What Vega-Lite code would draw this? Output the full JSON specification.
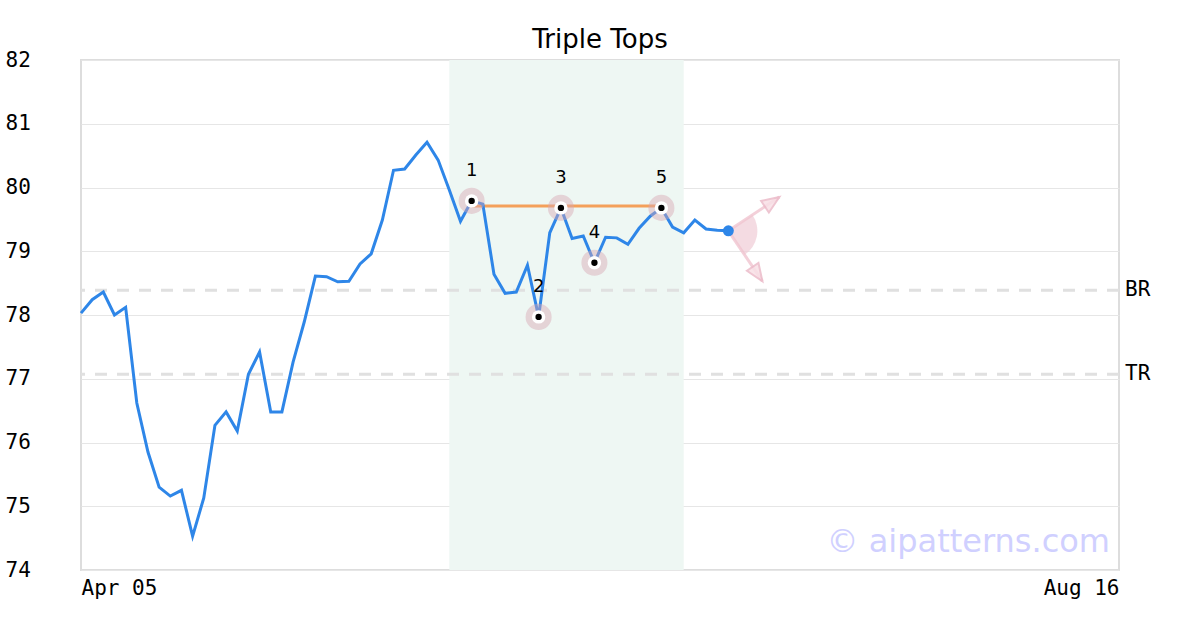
{
  "$schema": "https://vega.github.io/schema/vega-lite/v6.json",
  "width": 1038,
  "height": 510,
  "autosize": "none",
  "padding": {"left": 81, "top": 60, "right": 81, "bottom": 60},
  "background": "white",
  "title": {"text": "Triple Tops", "font": "DejaVu Sans", "fontSize": 26, "fontWeight": "normal", "color": "#000000", "anchor": "middle", "offset": -4},
  "config": {
    "view": {"stroke": "#dddddd", "strokeWidth": 2},
    "axis": {"labelFont": "DejaVu Sans Mono", "labelFontSize": 21, "labelColor": "#000000", "ticks": false, "domain": false, "title": null}
  },
  "datasets": {
    "series": [
      {"i": 0, "v": 78.03}, {"i": 1, "v": 78.24}, {"i": 2, "v": 78.36}, {"i": 3, "v": 78.0}, {"i": 4, "v": 78.12},
      {"i": 5, "v": 76.62}, {"i": 6, "v": 75.85}, {"i": 7, "v": 75.3}, {"i": 8, "v": 75.16}, {"i": 9, "v": 75.25},
      {"i": 10, "v": 74.53}, {"i": 11, "v": 75.13}, {"i": 12, "v": 76.27}, {"i": 13, "v": 76.48}, {"i": 14, "v": 76.18},
      {"i": 15, "v": 77.07}, {"i": 16, "v": 77.42}, {"i": 17, "v": 76.48}, {"i": 18, "v": 76.48}, {"i": 19, "v": 77.26},
      {"i": 20, "v": 77.89}, {"i": 21, "v": 78.61}, {"i": 22, "v": 78.6}, {"i": 23, "v": 78.52}, {"i": 24, "v": 78.53},
      {"i": 25, "v": 78.8}, {"i": 26, "v": 78.96}, {"i": 27, "v": 79.49}, {"i": 28, "v": 80.27}, {"i": 29, "v": 80.29},
      {"i": 30, "v": 80.51}, {"i": 31, "v": 80.71}, {"i": 32, "v": 80.43}, {"i": 33, "v": 79.96}, {"i": 34, "v": 79.47},
      {"i": 35, "v": 79.79}, {"i": 36, "v": 79.74}, {"i": 37, "v": 78.64}, {"i": 38, "v": 78.34}, {"i": 39, "v": 78.36},
      {"i": 40, "v": 78.78}, {"i": 41, "v": 77.97}, {"i": 42, "v": 79.29}, {"i": 43, "v": 79.68}, {"i": 44, "v": 79.2},
      {"i": 45, "v": 79.24}, {"i": 46, "v": 78.82}, {"i": 47, "v": 79.22}, {"i": 48, "v": 79.21}, {"i": 49, "v": 79.11},
      {"i": 50, "v": 79.36}, {"i": 51, "v": 79.55}, {"i": 52, "v": 79.68}, {"i": 53, "v": 79.38}, {"i": 54, "v": 79.29},
      {"i": 55, "v": 79.49}, {"i": 56, "v": 79.35}, {"i": 57, "v": 79.33}, {"i": 58, "v": 79.32}
    ],
    "pivots": [
      {"i": 35, "v": 79.79, "label": "1"},
      {"i": 41, "v": 77.97, "label": "2"},
      {"i": 43, "v": 79.68, "label": "3"},
      {"i": 46, "v": 78.82, "label": "4"},
      {"i": 52, "v": 79.68, "label": "5"}
    ],
    "levels": [
      {"v": 78.39, "label": "BR"},
      {"v": 77.07, "label": "TR"}
    ],
    "arrows": [
      {"i": 58, "v": 79.32, "i2": 62.57, "v2": 79.85, "dir": "up"},
      {"i": 58, "v": 79.32, "i2": 61.05, "v2": 78.53, "dir": "down"}
    ]
  },
  "layer": [
    {
      "data": {"values": [{"start": 33, "end": 54}]},
      "mark": {"type": "rect", "color": "#eef7f3"},
      "encoding": {
        "x": {"field": "start", "type": "quantitative", "scale": {"domain": [0, 93], "nice": false, "zero": false},
              "axis": {"values": [0, 93], "labelExpr": "datum.value == 0 ? 'Apr 05' : 'Aug 16'", "labelFlush": true, "labelPadding": 7, "grid": false}},
        "x2": {"field": "end"}
      }
    },
    {
      "data": {"name": "series"},
      "mark": {"type": "line", "opacity": 0},
      "encoding": {
        "x": {"field": "i", "type": "quantitative", "scale": {"domain": [0, 93], "nice": false, "zero": false}},
        "y": {"field": "v", "type": "quantitative", "scale": {"domain": [74, 82], "nice": false, "zero": false},
              "axis": {"values": [74, 75, 76, 77, 78, 79, 80, 81, 82], "format": "d", "labelAlign": "left", "labelPadding": 76, "grid": true, "gridColor": "#e6e6e6", "gridWidth": 1}}
      }
    },
    {
      "data": {"name": "levels"},
      "mark": {"type": "rule", "color": "#e0e0e0", "strokeWidth": 3, "strokeDash": [12, 10]},
      "encoding": {"y": {"field": "v", "type": "quantitative"}}
    },
    {
      "data": {"name": "levels"},
      "mark": {"type": "text", "align": "left", "baseline": "middle", "dx": 6, "font": "DejaVu Sans Mono", "fontSize": 21, "color": "#000000"},
      "encoding": {"x": {"datum": 93}, "y": {"field": "v", "type": "quantitative"}, "text": {"field": "label"}}
    },
    {
      "data": {"values": [{"i": 35, "i2": 52, "v": 79.71}]},
      "mark": {"type": "rule", "color": "#f4a05a", "strokeWidth": 3},
      "encoding": {"x": {"field": "i", "type": "quantitative"}, "x2": {"field": "i2"}, "y": {"field": "v", "type": "quantitative"}}
    },
    {
      "data": {"name": "series"},
      "mark": {"type": "line", "color": "#2e86e8", "strokeWidth": 3},
      "encoding": {"x": {"field": "i", "type": "quantitative"}, "y": {"field": "v", "type": "quantitative"}}
    },
    {
      "data": {"values": [{"i": 58, "v": 79.32}]},
      "mark": {"type": "arc", "theta": 0.98, "theta2": 2.55, "outerRadius": 29, "innerRadius": 0, "color": "#f0ccd6", "opacity": 0.7},
      "encoding": {"x": {"field": "i", "type": "quantitative"}, "y": {"field": "v", "type": "quantitative"}}
    },
    {
      "data": {"name": "arrows"},
      "mark": {"type": "rule", "color": "#f0c4d0", "strokeWidth": 3, "opacity": 0.8},
      "encoding": {"x": {"field": "i", "type": "quantitative"}, "y": {"field": "v", "type": "quantitative"}, "x2": {"field": "i2"}, "y2": {"field": "v2"}}
    },
    {
      "data": {"name": "arrows"},
      "mark": {"type": "point", "shape": "M0,0L-0.8,2L0.8,2Z", "size": 300, "filled": true, "fill": "#f8e0e6", "stroke": "#ecbcca", "strokeWidth": 2, "opacity": 0.85},
      "encoding": {
        "x": {"field": "i2", "type": "quantitative"},
        "y": {"field": "v2", "type": "quantitative"},
        "angle": {"field": "dir", "type": "nominal", "scale": {"domain": ["up", "down"], "range": [56, 146]}, "legend": null}
      }
    },
    {
      "data": {"name": "pivots"},
      "mark": {"type": "circle", "size": 680, "color": "#d8a6b3", "opacity": 0.45},
      "encoding": {"x": {"field": "i", "type": "quantitative"}, "y": {"field": "v", "type": "quantitative"}}
    },
    {
      "data": {"name": "pivots"},
      "mark": {"type": "circle", "size": 180, "color": "#ffffff", "opacity": 1},
      "encoding": {"x": {"field": "i", "type": "quantitative"}, "y": {"field": "v", "type": "quantitative"}}
    },
    {
      "data": {"name": "pivots"},
      "mark": {"type": "circle", "size": 40, "color": "#000000", "opacity": 1},
      "encoding": {"x": {"field": "i", "type": "quantitative"}, "y": {"field": "v", "type": "quantitative"}}
    },
    {
      "data": {"name": "pivots"},
      "mark": {"type": "text", "dy": -30, "font": "DejaVu Sans", "fontSize": 18, "color": "#000000", "baseline": "middle", "align": "center"},
      "encoding": {"x": {"field": "i", "type": "quantitative"}, "y": {"field": "v", "type": "quantitative"}, "text": {"field": "label"}}
    },
    {
      "data": {"values": [{"i": 58, "v": 79.32}]},
      "mark": {"type": "circle", "size": 120, "color": "#2e86e8", "opacity": 1},
      "encoding": {"x": {"field": "i", "type": "quantitative"}, "y": {"field": "v", "type": "quantitative"}}
    },
    {
      "data": {"values": [{"i": 93, "v": 74.44, "note": "© aipatterns.com"}]},
      "mark": {"type": "text", "align": "right", "baseline": "middle", "dx": -9, "font": "DejaVu Sans", "fontSize": 32, "color": "#d0d0ff"},
      "encoding": {"x": {"field": "i", "type": "quantitative"}, "y": {"field": "v", "type": "quantitative"}, "text": {"field": "note"}}
    }
  ]
}
